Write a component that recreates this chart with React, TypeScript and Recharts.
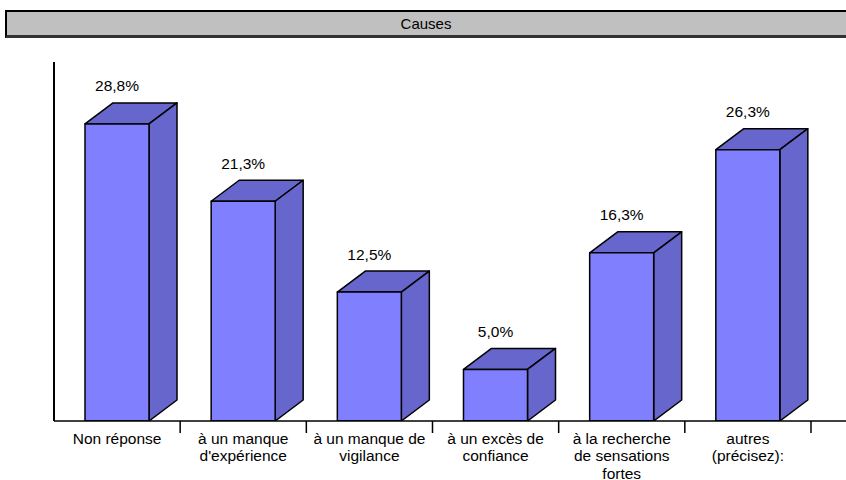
import React from 'react';
import { BarChart, Bar, XAxis, YAxis, LabelList } from 'recharts';

const categories = [
  'Non réponse',
  "à un manque\nd'expérience",
  'à un manque de\nvigilance',
  'à un excès de\nconfiance',
  'à la recherche\nde sensations\nfortes',
  'autres\n(précisez):',
];
const values = [28.8, 21.3, 12.5, 5.0, 16.3, 26.3];
const title = 'Causes';

const data = categories.map((name, i) => ({ name, value: values[i] }));

const W = 846;
const H = 480;
const margin = { top: 62, right: 0, left: 53, bottom: 0 };
const xAxisH = 59;
const yAxisW = 1;
const padRight = 35;
const halfBand = (W - margin.left - yAxisW - margin.right - padRight) / categories.length / 2;
const DX = 28;
const DY = 21;
const font = '"Liberation Sans", Arial, sans-serif';
const fs = 15.5;

const Bar3D = (props: any) => {
  const { x, y, width, height } = props;
  if (width == null || height == null) return null;
  const b = y + height;
  const front = '#8080FF';
  const dark = '#6666CC';
  return (
    <g stroke="#000" strokeWidth={1.5} strokeLinejoin="round">
      <polygon points={`${x},${y} ${x + DX},${y - DY} ${x + width + DX},${y - DY} ${x + width},${y}`} fill={dark} />
      <polygon points={`${x + width},${y} ${x + width + DX},${y - DY} ${x + width + DX},${b - DY} ${x + width},${b}`} fill={dark} />
      <rect x={x} y={y} width={width} height={height} fill={front} />
    </g>
  );
};

const ValueLabel = (props: any) => {
  const { x, y, width, value } = props;
  return (
    <text x={x + width / 2} y={y - 38} textAnchor="middle" dominantBaseline="central" fontSize={fs} fontFamily={font} fill="#000">
      {Number(value).toFixed(1).replace('.', ',') + '%'}
    </text>
  );
};

const CatTick = (props: any) => {
  const { x, y, payload } = props;
  const lines = String(payload.value).split('\n');
  return (
    <g>
      <line x1={x + halfBand} y1={y} x2={x + halfBand} y2={y + 12} stroke="#000" strokeWidth={1.5} />
      {lines.map((l, i) => (
        <text key={i} x={x} y={y + 17 + i * 17.5} textAnchor="middle" dominantBaseline="central" fontSize={fs} fontFamily={font} fill="#000">
          {l}
        </text>
      ))}
    </g>
  );
};

export default function App() {
  return (
    <div style={{ position: 'absolute', left: 0, top: 0, width: W, height: H, background: '#fff' }}>
      <div
        style={{
          position: 'absolute',
          left: 5,
          top: 10,
          width: 845,
          height: 23,
          background: '#C0C0C0',
          borderTop: '2px solid #000',
          borderLeft: '2px solid #000',
          borderBottom: '3px solid #333',
          fontFamily: font,
          fontSize: 15,
        }}
      >
        <span style={{ position: 'absolute', left: 0, top: 0, width: 838, lineHeight: '23px', textAlign: 'center' }}>{title}</span>
      </div>
      <BarChart width={W} height={H} data={data} margin={margin}>
        <XAxis
          dataKey="name"
          height={xAxisH}
          interval={0}
          padding={{ left: 0, right: padRight }}
          axisLine={{ stroke: '#000', strokeWidth: 1.5 }}
          tickLine={false}
          tickSize={0}
          tickMargin={0}
          tick={<CatTick />}
        />
        <YAxis
          width={yAxisW}
          domain={[0, 34.8]}
          allowDataOverflow
          tick={false}
          tickLine={false}
          axisLine={{ stroke: '#000', strokeWidth: 2 }}
        />
        <Bar dataKey="value" barSize={64} shape={<Bar3D />} isAnimationActive={false}>
          <LabelList dataKey="value" content={<ValueLabel />} />
        </Bar>
      </BarChart>
    </div>
  );
}
